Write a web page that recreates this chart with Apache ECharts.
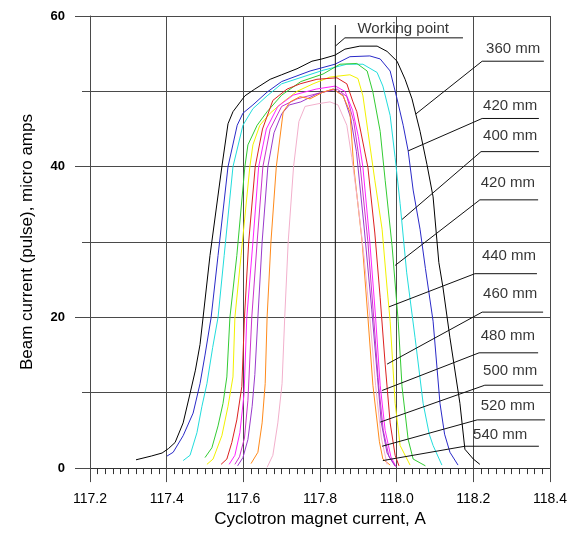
<!DOCTYPE html>
<html>
<head>
<meta charset="utf-8">
<script src="https://cdn.jsdelivr.net/npm/echarts@6/dist/echarts.min.js"></script>
<style>html,body{margin:0;padding:0;background:#fff;overflow:hidden}#c{width:572px;height:533px}</style>
</head>
<body>
<div id="c"></div>
<script>
// ---- data (A, micro amps) ----
const xTickLabels = ['117.2','117.4','117.6','117.8','118.0','118.2','118.4'];
const yTickLabels = ['0','20','40','60'];

const curveBlack = [[117.32,1.1],[117.36,1.6],[117.388,2.0],[117.405,2.6],[117.422,3.4],[117.443,6.0],[117.461,9.9],[117.475,13],[117.487,16.4],[117.495,20],[117.513,28.2],[117.544,40],[117.56,45.7],[117.573,47.3],[117.604,49.4],[117.63,50.3],[117.67,51.6],[117.70,52.2],[117.74,53.0],[117.779,54.0],[117.805,54.3],[117.839,54.8],[117.865,55.6],[117.904,56.0],[117.949,56.0],[117.975,55.3],[118.001,54.0],[118.022,51.6],[118.04,49.0],[118.061,44.7],[118.079,40.3],[118.095,36.0],[118.11,27.3],[118.121,23.9],[118.139,17.3],[118.165,8.6],[118.178,2.5],[118.2,1.2],[118.217,0.5]];
const curveBlue = [[117.401,1.6],[117.417,2.1],[117.443,4.3],[117.469,7.3],[117.487,11.2],[117.50,15],[117.516,20],[117.534,28.2],[117.56,40],[117.584,45.5],[117.599,47.1],[117.625,48.2],[117.662,49.9],[117.70,51.3],[117.774,52.7],[117.839,53.6],[117.878,54.6],[117.93,54.7],[117.957,54.3],[117.983,52.7],[118.001,49.0],[118.017,45.5],[118.03,42.1],[118.043,36.9],[118.061,31.7],[118.075,26.5],[118.095,19.5],[118.113,8.6],[118.125,4.5],[118.139,2.1],[118.16,0.4]];
const curveCyan = [[117.443,1.0],[117.461,1.7],[117.479,4.7],[117.492,8.2],[117.505,11.2],[117.52,16],[117.534,20],[117.55,28.2],[117.573,40],[117.599,45.5],[117.625,47.7],[117.662,49.4],[117.70,51.0],[117.808,52.8],[117.87,53.6],[117.912,53.6],[117.949,52.5],[117.964,50.7],[117.983,46.8],[117.996,41.2],[118.009,35.1],[118.026,26.0],[118.048,17.3],[118.069,8.6],[118.085,4.5],[118.095,3.0],[118.118,0.4]];
const curveGreen = [[117.50,1.4],[117.518,2.7],[117.534,5.6],[117.547,8.6],[117.557,12.1],[117.565,20],[117.583,28.2],[117.604,40],[117.612,42.9],[117.636,45.5],[117.662,47.3],[117.70,49.5],[117.75,51.3],[117.808,52.3],[117.852,53.6],[117.896,53.7],[117.923,52.7],[117.938,49.9],[117.957,44.7],[117.97,38.2],[117.988,29.5],[118.004,19.5],[118.014,10.8],[118.03,3.8],[118.043,1.2],[118.075,0.3]];
const curveYellow = [[117.505,0.5],[117.521,1.2],[117.544,4.3],[117.56,8.2],[117.573,12.1],[117.578,20],[117.594,28.2],[117.617,40],[117.625,42.9],[117.643,45.5],[117.67,47.1],[117.704,48.6],[117.74,50.0],[117.782,51.0],[117.826,51.9],[117.878,52.2],[117.899,51.7],[117.912,49.4],[117.925,44.7],[117.943,38.2],[117.962,31.7],[117.975,23.9],[117.983,19.5],[117.996,8.6],[118.009,3.0],[118.035,0.4]];
const curveRed = [[117.542,0.5],[117.557,1.2],[117.57,3.4],[117.583,6.4],[117.596,10.8],[117.603,20],[117.614,30],[117.631,40],[117.65,45],[117.677,48.8],[117.714,50.3],[117.748,51.0],[117.792,51.6],[117.844,51.8],[117.87,51.0],[117.886,48.6],[117.896,47.3],[117.925,39.9],[117.943,31.2],[117.957,22.6],[117.97,13.8],[117.983,6.0],[117.996,1.7],[118.006,0.3]];
const curveMagenta = [[117.563,0.5],[117.578,1.7],[117.591,4.7],[117.602,9.9],[117.609,20],[117.625,30],[117.64,40],[117.66,45],[117.69,48],[117.73,49.5],[117.79,50.3],[117.84,50.7],[117.865,50.0],[117.885,47.5],[117.9,44],[117.912,39.9],[117.93,30],[117.945,20],[117.957,11],[117.97,5],[117.985,1.5],[117.998,0.2]];
const curveOrchid = [[117.578,0.5],[117.59,1.5],[117.603,4],[117.612,9],[117.622,20],[117.636,30],[117.651,40],[117.67,45],[117.70,48],[117.74,49],[117.80,49.8],[117.845,50.3],[117.87,49.3],[117.888,46],[117.905,40],[117.925,30],[117.94,20],[117.953,11],[117.965,5],[117.98,1.5],[117.998,0.2]];
const curvePurple = [[117.585,0.3],[117.599,1.4],[117.612,3.8],[117.623,8.2],[117.63,12.4],[117.638,20],[117.649,30],[117.664,40],[117.68,44.5],[117.70,47],[117.72,48.2],[117.75,48.6],[117.79,49.6],[117.835,50.3],[117.86,49.5],[117.88,46.5],[117.895,42],[117.915,32],[117.935,21],[117.95,12],[117.96,6],[117.975,2],[117.995,0.3]];
const curveOrange = [[117.62,0.6],[117.638,2.1],[117.649,6.0],[117.657,11.2],[117.662,20],[117.672,30],[117.686,40],[117.704,47.3],[117.722,48.6],[117.748,49.3],[117.774,49.0],[117.808,49.9],[117.834,50.3],[117.86,49.4],[117.878,47.3],[117.888,40],[117.91,30],[117.925,20],[117.938,11],[117.955,3.5],[117.964,1.2],[117.983,0.4]];
const curvePink = [[117.662,0.1],[117.677,1.7],[117.69,6.0],[117.701,11.2],[117.708,20],[117.717,30],[117.731,40],[117.745,46],[117.761,48.0],[117.80,48.4],[117.826,48.6],[117.847,48.2],[117.87,45.5],[117.883,41.2],[117.899,35.1],[117.915,28],[117.93,20],[117.945,11],[117.96,4],[117.975,0.5]];

// label texts and where their leaders attach (curve point, elbow, end of underline)
const labelTexts = ['360 mm','420 mm','400 mm','420 mm','440 mm','460 mm','480 mm','500 mm','520 mm','540 mm'];
const labelAnchors = [[118.050,47.0],[118.030,42.1],[118.014,33.0],[117.996,26.9],[117.980,21.4],[117.975,13.8],[117.962,10.3],[117.957,6.1],[117.962,2.9],[117.964,1.0]];
const labelElbows = [[118.223,54.0],[118.223,46.4],[118.220,42.0],[118.217,35.6],[118.204,25.8],[118.223,20.7],[118.215,15.3],[118.230,11.0],[118.210,6.4],[118.178,2.9]];
const labelEnds = [[118.384,54.0],[118.371,46.4],[118.371,42.0],[118.369,35.6],[118.366,25.8],[118.382,20.7],[118.369,15.3],[118.382,11.0],[118.387,6.4],[118.371,2.9]];
const labelTextPos = [[118.304,55.7],[118.296,48.1],[118.296,44.1],[118.290,37.8],[118.293,28.2],[118.296,23.1],[118.290,17.5],[118.296,12.9],[118.290,8.2],[118.270,4.4]];

const workingPoint = 117.84;
const workingLeader = [[117.84,56.0],[117.865,57.1],[118.173,57.1]];
const workingTextPos = [118.017,58.3];

// ---- chart ----
const curves = [
  {d: curveBlack, c: '#000000'},
  {d: curveBlue, c: '#2a2ac8'},
  {d: curveCyan, c: '#22dddd'},
  {d: curveGreen, c: '#33cc33'},
  {d: curveYellow, c: '#f2f200'},
  {d: curveRed, c: '#dd2020'},
  {d: curveMagenta, c: '#ff22ff'},
  {d: curveOrchid, c: '#cc33cc'},
  {d: curvePurple, c: '#9a3acc'},
  {d: curveOrange, c: '#ff8a1a'},
  {d: curvePink, c: '#f2b0cc'}
];
const gridColor = '#4a4a4a';
const font = 'Arial, Liberation Sans, sans-serif';
const series = [];
curves.forEach((cv) => {
  series.push({type: 'line', data: cv.d, showSymbol: false, symbol: 'none', silent: true, z: 3,
    lineStyle: {color: cv.c, width: 1}});
});
series.push({type: 'line', data: [[workingPoint, 0], [workingPoint, 58.8]], symbol: 'none', silent: true, z: 4,
  lineStyle: {color: '#111', width: 1}});
series.push({type: 'line', data: workingLeader, symbol: 'none', silent: true, z: 4,
  lineStyle: {color: '#111', width: 1}});
labelTexts.forEach((t, i) => {
  series.push({type: 'line', data: [labelAnchors[i], labelElbows[i], labelEnds[i]], symbol: 'none', silent: true, z: 4,
    lineStyle: {color: '#111', width: 1}});
});
series.push({type: 'scatter', symbolSize: 0, silent: true, z: 5,
  data: labelTexts.map((t, i) => ({value: labelTextPos[i], name: t})).concat([{value: workingTextPos, name: 'Working point'}]),
  label: {show: true, position: 'inside', formatter: p => p.name, color: '#000', fontFamily: font, fontSize: 15}});

const el = document.getElementById('c');
const chart = echarts.init(el, null, {renderer: 'canvas', width: 572, height: 533});
chart.setOption({
  animation: false,
  backgroundColor: '#fff',
  grid: {left: 90, top: 16, width: 460, height: 460, containLabel: false},
  xAxis: {
    type: 'value', min: 117.2, max: 118.4, interval: 0.2,
    name: 'Cyclotron magnet current, A', nameLocation: 'middle', nameGap: 38,
    nameTextStyle: {fontFamily: font, fontSize: 17, color: '#000'},
    axisLine: {show: true, lineStyle: {color: '#333', width: 1}},
    axisTick: {show: true, length: 14, lineStyle: {color: gridColor, width: 1}},
    minorTick: {show: true, splitNumber: 10, length: 6, lineStyle: {color: '#333', width: 1}},
    axisLabel: {margin: 24, fontFamily: font, fontSize: 14, color: '#000',
      formatter: v => xTickLabels.find(s => Math.abs(parseFloat(s) - v) < 1e-6) || ''},
    splitLine: {show: true, lineStyle: {color: gridColor, width: 1}}
  },
  yAxis: [{
    type: 'value', min: 0, max: 60, interval: 20, position: 'left',
    name: 'Beam current (pulse), micro amps', nameLocation: 'middle', nameGap: 54,
    nameTextStyle: {fontFamily: font, fontSize: 17, color: '#000'},
    axisLine: {show: true, lineStyle: {color: gridColor, width: 1}},
    axisTick: {show: true, length: 15, lineStyle: {color: gridColor, width: 1}},
    axisLabel: {margin: 25, fontFamily: font, fontSize: 13, fontWeight: 'bold', color: '#000',
      formatter: v => yTickLabels.find(s => parseFloat(s) === v) || ''},
    splitLine: {show: true, lineStyle: {color: gridColor, width: 1}}
  }, {
    type: 'value', min: 0, max: 60, interval: 10, position: 'left',
    axisLine: {show: false},
    axisTick: {show: true, length: 8, lineStyle: {color: gridColor, width: 1}},
    axisLabel: {show: false},
    splitLine: {show: true, lineStyle: {color: gridColor, width: 1}}
  }],
  series: series
});
</script>
</body>
</html>
